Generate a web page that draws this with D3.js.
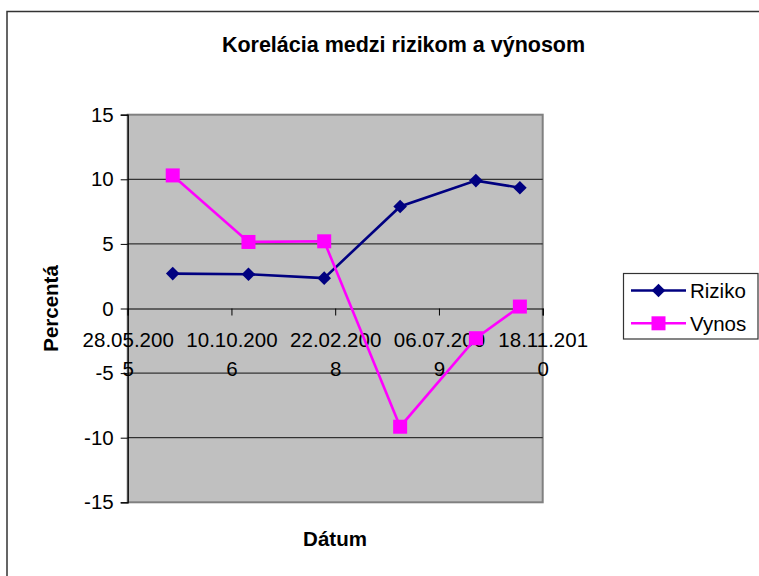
<!DOCTYPE html>
<html>
<head>
<meta charset="utf-8">
<script src="https://cdn.jsdelivr.net/npm/d3@7"></script>
<style>
  html, body { margin: 0; padding: 0; background: #fff; }
  svg { display: block; font-family: "Liberation Sans", Arial, sans-serif; }
</style>
</head>
<body>
<svg id="chart" width="759" height="576"></svg>
<script>
// ---- data ----
const title = "Korelácia medzi rizikom a výnosom";
const xTitle = "Dátum";
const yTitle = "Percentá";
const dates = ["31.12.2005", "31.12.2006", "31.12.2007", "31.12.2008", "31.12.2009", "31.07.2010"];
const riziko = [2.7, 2.65, 2.35, 7.9, 9.9, 9.35];
const vynos = [10.3, 5.15, 5.2, -9.15, -2.3, 0.15];
const xTickLabels = ["28.05.2005", "10.10.2006", "22.02.2008", "06.07.2009", "18.11.2010"];
const yTicks = [-15, -10, -5, 0, 5, 10, 15];
const seriesNames = ["Riziko", "Vynos"];

// ---- setup ----
const parse = d3.utcParse("%d.%m.%Y");
const svg = d3.select("#chart");
const plot = { left: 127.7, right: 542.7, top: 114.7, bottom: 502.3 };

const x = d3.scaleUtc()
  .domain([parse(xTickLabels[0]), parse(xTickLabels[xTickLabels.length - 1])])
  .range([plot.left, plot.right]);
const y = d3.scaleLinear().domain([-15, 15]).range([plot.bottom, plot.top]);

// outer frame
svg.append("rect").attr("x", 7).attr("y", 11.5).attr("width", 800).attr("height", 600)
  .attr("fill", "#fff").attr("stroke", "#333").attr("stroke-width", 1.5);

// plot area
svg.append("rect").attr("x", plot.left).attr("y", plot.top)
  .attr("width", plot.right - plot.left).attr("height", plot.bottom - plot.top)
  .attr("fill", "#c0c0c0").attr("stroke", "#808080").attr("stroke-width", 2);

// gridlines
svg.append("g").selectAll("line").data(yTicks.filter(d => d !== 15 && d !== -15 && d !== 0))
  .join("line")
  .attr("x1", plot.left).attr("x2", plot.right)
  .attr("y1", d => y(d)).attr("y2", d => y(d))
  .attr("stroke", "#111").attr("stroke-width", 1);

// y axis
const yAxis = svg.append("g").attr("transform", `translate(${plot.left},0)`)
  .call(d3.axisLeft(y).tickValues(yTicks).tickSize(7).tickPadding(7).tickFormat(d3.format("d")));
yAxis.select(".domain").attr("stroke", "#000").attr("stroke-width", 1.2);
yAxis.selectAll(".tick line").attr("stroke", "#000");
yAxis.selectAll(".tick text").attr("font-size", "20.5px").attr("fill", "#000")
  .attr("font-family", "Liberation Sans, Arial, sans-serif").text(d => d < 0 ? "-" + Math.abs(d) : d);

// x axis at zero
const xAxis = svg.append("g").attr("transform", `translate(0,${y(0)})`)
  .call(d3.axisBottom(x).tickValues(xTickLabels.map(parse)).tickSize(7).tickFormat(""));
xAxis.select(".domain").attr("stroke", "#000").attr("stroke-width", 1.2);
xAxis.selectAll(".tick line").attr("stroke", "#000");
xAxis.selectAll(".tick").each(function(d, i) {
  const lbl = xTickLabels[i];
  const t = d3.select(this).append("text")
    .attr("text-anchor", "middle").attr("font-size", "20.5px").attr("fill", "#000")
    .attr("font-family", "Liberation Sans, Arial, sans-serif");
  t.append("tspan").attr("x", 0).attr("y", 38).text(lbl.slice(0, 9));
  t.append("tspan").attr("x", 0).attr("y", 67.5).text(lbl.slice(9));
});

// series
const pts = dates.map(parse);
const line = d3.line().x((d, i) => x(pts[i])).y(d => y(d));
const colors = ["#000080", "#ff00ff"];

svg.append("path").datum(riziko).attr("d", line).attr("fill", "none")
  .attr("stroke", colors[0]).attr("stroke-width", 2.6);
svg.append("path").datum(vynos).attr("d", line).attr("fill", "none")
  .attr("stroke", colors[1]).attr("stroke-width", 2.6);

const diamond = (cx, cy, r) => `M${cx},${cy - r}L${cx + r},${cy}L${cx},${cy + r}L${cx - r},${cy}Z`;
svg.append("g").selectAll("path").data(riziko).join("path")
  .attr("d", (d, i) => diamond(x(pts[i]), y(d), 6.8)).attr("fill", colors[0]);
svg.append("g").selectAll("rect").data(vynos).join("rect")
  .attr("x", (d, i) => x(pts[i]) - 7).attr("y", d => y(d) - 7)
  .attr("width", 14).attr("height", 14).attr("fill", colors[1]);

// titles
svg.append("text").attr("x", 403.5).attr("y", 51.5).attr("text-anchor", "middle")
  .attr("font-weight", "bold").attr("font-size", "21.5px").text(title);
svg.append("text").attr("x", 335).attr("y", 545.5).attr("text-anchor", "middle")
  .attr("font-weight", "bold").attr("font-size", "20.5px").text(xTitle);
svg.append("text").attr("transform", "translate(57.5,308.5) rotate(-90)").attr("text-anchor", "middle")
  .attr("font-weight", "bold").attr("font-size", "20.5px").text(yTitle);

// legend
const lg = svg.append("g");
lg.append("rect").attr("x", 623.5).attr("y", 273.5).attr("width", 134.5).attr("height", 65.5)
  .attr("fill", "#fff").attr("stroke", "#333").attr("stroke-width", 1.2);
const rows = [290.5, 323.3];
seriesNames.forEach((name, i) => {
  const ry = rows[i];
  lg.append("line").attr("x1", 631).attr("x2", 686).attr("y1", ry).attr("y2", ry)
    .attr("stroke", colors[i]).attr("stroke-width", 2.6);
  if (i === 0) lg.append("path").attr("d", diamond(658.5, ry, 6.8)).attr("fill", colors[0]);
  else lg.append("rect").attr("x", 651.5).attr("y", ry - 7).attr("width", 14).attr("height", 14).attr("fill", colors[1]);
  lg.append("text").attr("x", 690).attr("y", ry + 7.5).attr("font-size", "20.5px").text(name);
});
</script>
</body>
</html>
